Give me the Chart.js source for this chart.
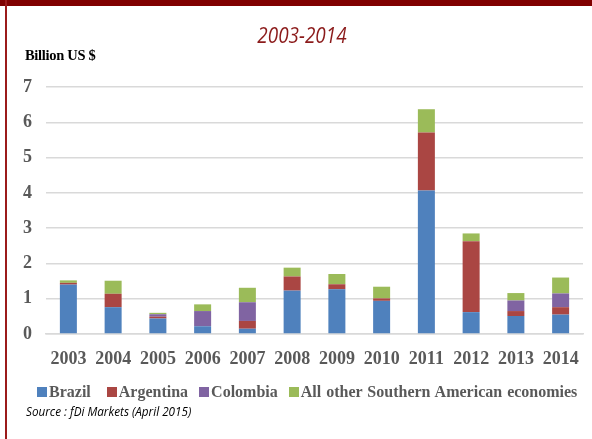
<!DOCTYPE html>
<html>
<head>
<meta charset="utf-8">
<script src="https://cdn.jsdelivr.net/npm/chart.js@4.4.1/dist/chart.umd.min.js"></script>
<style>
  html, body { margin: 0; padding: 0; background: #fff; }
  #wrap { position: relative; width: 592px; height: 439px; overflow: hidden; background: #fff; }
  #topbar { position: absolute; left: 0; top: 0; width: 592px; height: 6px; background: #800000; }
  #leftbar { position: absolute; left: 5px; top: 0; width: 2px; height: 439px; background: #9B1B1B; }
  #cv { position: absolute; left: 0; top: 0; }
  #title { position: absolute; left: 0; width: 604px; top: 19px; text-align: center;
           font-family: "Open Sans", sans-serif; font-style: italic; font-size: 22px; color: #8B1A1A;
           transform: scaleX(0.86); transform-origin: 302px 0; }
  #unit { position: absolute; left: 25px; top: 47px; font-family: "Liberation Serif", serif;
          font-weight: bold; font-size: 14.5px; color: #000; letter-spacing: -0.3px; }
  #legend { position: absolute; left: 37px; top: 383px; display: flex; align-items: center;
            font-family: "Liberation Serif", serif; font-weight: bold; font-size: 16px; color: #595959; white-space: nowrap; }
  #legend .item { display: flex; align-items: center; margin-right: 11px; }
  #legend .box { width: 10px; height: 10px; margin-right: 2px; }
  #source { position: absolute; left: 26px; top: 402px; font-family: "Open Sans", sans-serif;
            font-style: italic; font-size: 13px; color: #000; transform: scaleX(0.9); transform-origin: 0 0; }
</style>
</head>
<body>
<div id="wrap">
  <canvas id="cv" width="592" height="439"></canvas>
  <div id="topbar"></div>
  <div id="leftbar"></div>
  <div id="title">2003-2014</div>
  <div id="unit">Billion US $</div>
  <div id="legend"></div>
  <div id="source">Source : fDi Markets (April 2015)</div>
</div>
<script>
const years = ["2003","2004","2005","2006","2007","2008","2009","2010","2011","2012","2013","2014"];
const seriesNames = ["Brazil", "Argentina", "Colombia", "All other Southern American economies"];
const brazil    = [1.40, 0.76, 0.44, 0.22, 0.15, 1.23, 1.27, 0.94, 4.07, 0.62, 0.51, 0.55];
const argentina = [0.05, 0.38, 0.05, 0.00, 0.22, 0.40, 0.14, 0.07, 1.64, 2.01, 0.14, 0.21];
const colombia  = [0.00, 0.00, 0.07, 0.43, 0.53, 0.00, 0.00, 0.00, 0.00, 0.00, 0.30, 0.39];
const others    = [0.07, 0.37, 0.04, 0.19, 0.41, 0.25, 0.29, 0.33, 0.66, 0.22, 0.21, 0.45];
const yTicks = [0, 1, 2, 3, 4, 5, 6, 7];
const colors = ["#4F81BD", "#AA4643", "#8064A2", "#9BBB59"];

const seriesData = [brazil, argentina, colombia, others];
const datasets = seriesNames.map((name, i) => ({
  label: name,
  data: seriesData[i],
  backgroundColor: colors[i],
  borderWidth: 0,
  categoryPercentage: 1,
  barPercentage: 0.38
}));

// HTML legend built from the series
const lg = document.getElementById('legend');
seriesNames.forEach((n, i) => {
  const it = document.createElement('div'); it.className = 'item';
  const b = document.createElement('div'); b.className = 'box'; b.style.background = colors[i];
  const t = document.createElement('span'); t.textContent = n;
  if (i === 0) it.style.marginRight = '16px';
  if (i === 3) t.style.wordSpacing = '1px';
  it.appendChild(b); it.appendChild(t); lg.appendChild(it);
});

new Chart(document.getElementById('cv'), {
  type: 'bar',
  data: { labels: years, datasets },
  options: {
    responsive: false,
    animation: false,
    layout: { padding: { left: 0, right: 9, top: 87, bottom: 65 } },
    plugins: { legend: { display: false }, title: { display: false }, tooltip: { enabled: false } },
    scales: {
      x: {
        stacked: true,
        grid: { display: false },
        border: { display: true, color: '#D9D9D9', width: 1.5 },
        ticks: { color: '#595959', padding: 7, maxRotation: 0, autoSkip: false,
                 font: { family: 'Liberation Serif', weight: 'bold', size: 18 } },
        afterFit: (s) => { s.height = 40; }
      },
      y: {
        stacked: true,
        min: 0, max: 7,
        afterBuildTicks: (s) => { s.ticks = yTicks.map(v => ({ value: v })); },
        grid: { color: '#D9D9D9', lineWidth: 1.5, drawTicks: false },
        border: { display: false },
        ticks: { color: '#595959', padding: 14,
                 font: { family: 'Liberation Serif', weight: 'bold', size: 18 } },
        afterFit: (s) => { s.width = 46; }
      }
    }
  }
});
</script>
</body>
</html>
